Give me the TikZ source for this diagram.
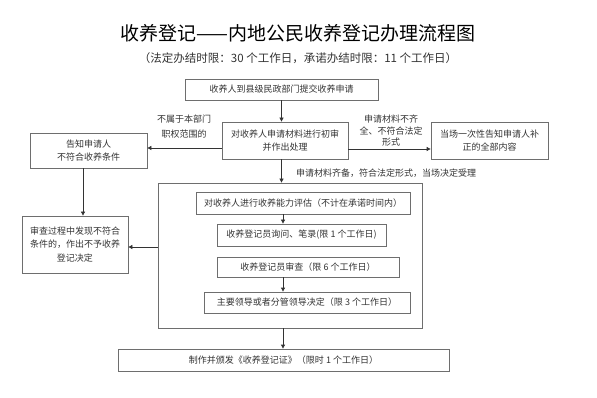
\documentclass[tikz,border=0pt]{standalone}
\usepackage{fontspec}
\setmainfont{Noto Sans CJK SC}
\usetikzlibrary{arrows.meta}
\definecolor{boxgray}{HTML}{6E6E6E}
\definecolor{arrgray}{HTML}{333333}
\definecolor{txt}{HTML}{333333}
\begin{document}
\begin{tikzpicture}[x=1pt,y=-1pt,
  box/.style={draw=boxgray, line width=0.8pt, inner sep=0pt, align=center,
    font=\fontsize{9}{13.5}\selectfont, text=txt},
  arr/.style={draw=arrgray, line width=0.8pt, -{Triangle[length=4pt,width=4pt]}},
  lbl/.style={font=\fontsize{9}{13}\selectfont, text=txt, align=center, inner sep=0pt}]
\useasboundingbox (0,0) rectangle (597,398);
\fill[white] (0,0) rectangle (597,398);

% helper coordinates
\coordinate (c83) at (83,0);
\coordinate (c283) at (283,0);
\coordinate (y148) at (0,148);
\coordinate (y149) at (0,149);
\coordinate (y247) at (0,247);

% titles
\node[font=\fontsize{19}{19}\selectfont, text=black, inner sep=0pt] (title) at (298,33) {收养登记——内地公民收养登记办理流程图};
\node[font=\fontsize{11.5}{12}\selectfont, text=txt, inner sep=0pt] (subtitle) at (298,58) {（法定办结时限：30 个工作日，承诺办结时限：11 个工作日）};

% top boxes
\node[box, minimum width=193pt, minimum height=21pt] (b1) at (281.5,89.5) {收养人到县级民政部门提交收养申请};
\node[box, minimum width=126pt, minimum height=37pt] (b2) at (285,140.5) {对收养人申请材料进行初审\\并作出处理};
\node[box, minimum width=117pt, minimum height=35pt] (bl) at (88.5,150.5) {告知申请人\\不符合收养条件};
\node[box, minimum width=117pt, minimum height=37pt] (br) at (489.5,140.5) {当场一次性告知申请人补\\正的全部内容};
\node[box, minimum width=106pt, minimum height=57pt] (bl2) at (75,244.5) {审查过程中发现不符合\\条件的，作出不予收养\\登记决定};

% frame and inner boxes
\node[draw=boxgray, line width=0.8pt, minimum width=264pt, minimum height=145pt, inner sep=0pt] (frame) at (290,255.5) {};
\node[box, minimum width=214pt, minimum height=22pt] (A) at (303,203) {对收养人进行收养能力评估（不计在承诺时间内）};
\node[box, minimum width=169pt, minimum height=22pt] (B) at (301.5,235) {收养登记员询问、笔录(限 1 个工作日)};
\node[box, minimum width=182pt, minimum height=20pt] (C) at (308,267) {收养登记员审查（限 6 个工作日）};
\node[box, minimum width=206pt, minimum height=21pt] (D) at (307,302.5) {主要领导或者分管领导决定（限 3 个工作日）};
\node[box, minimum width=331pt, minimum height=22pt] (E) at (283.5,360) {制作并颁发《收养登记证》（限时 1 个工作日）};

% labels
\node[lbl] (l1) at (184,126.5) {不属于本部门\\[2pt]职权范围的};
\node[lbl, font=\fontsize{9}{11.5}\selectfont] (l2) at (391,131) {申请材料不齐\\全、不符合法定\\形式};
\node[lbl, anchor=west] (l3) at (296,173) {申请材料齐备，符合法定形式，当场决定受理};

% connectors
\draw[arr] (b1.south) -- (b1.south |- b2.north);
\draw[arr] (b1.south |- b2.south) -- (b1.south |- frame.north);
\draw[arr] (b2.west |- y148) -- (bl.east |- y148);
\draw[arr] (b2.east |- y149) -- (br.west |- y149);
\draw[arr] (bl.south -| c83) -- (bl2.north -| c83);
\draw[arr] (frame.west |- y247) -- (bl2.east |- y247);
\draw[arr] (A.south -| c283) -- (B.north -| c283);
\draw[arr] (C.south -| c283) -- (D.north -| c283);
\draw[arr] (frame.south -| c283) -- (E.north -| c283);
\end{tikzpicture}
\end{document}
